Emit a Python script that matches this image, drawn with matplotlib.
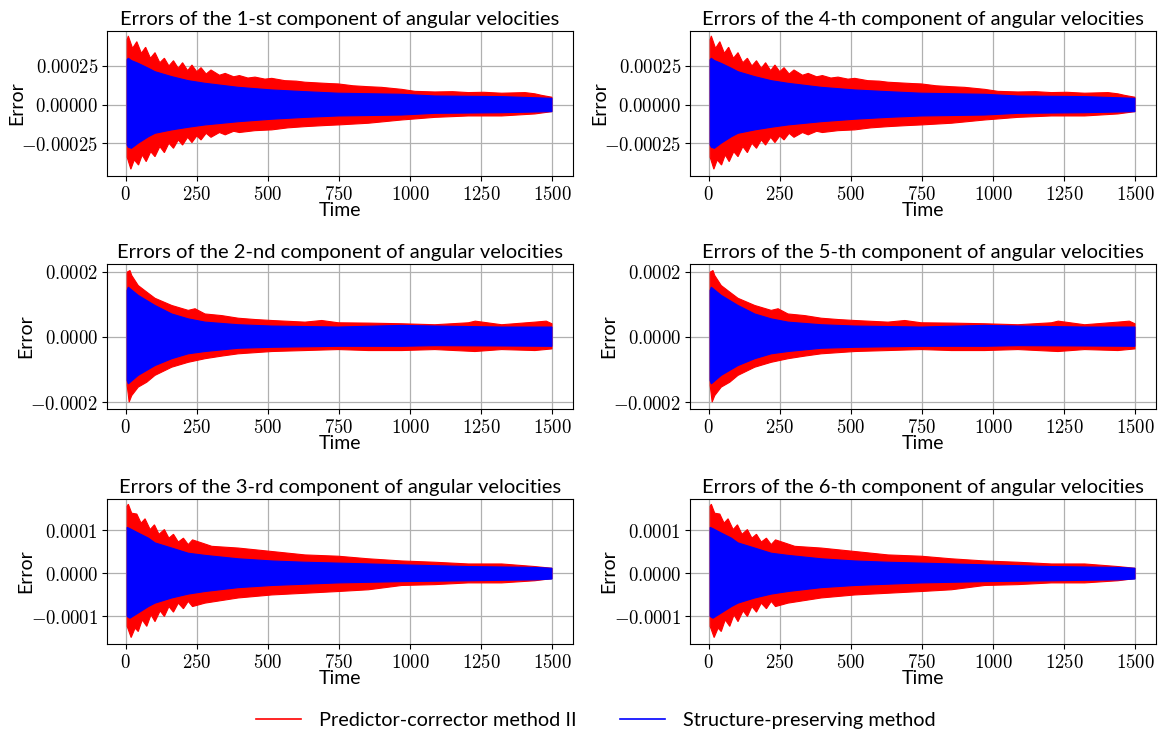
import numpy as np
import matplotlib
matplotlib.use('Agg')
import matplotlib.pyplot as plt
from matplotlib.ticker import FuncFormatter
from matplotlib.lines import Line2D

plt.rcParams['font.family'] = ['Lato', 'DejaVu Sans']
plt.rcParams['mathtext.fontset'] = 'cm'

SCALE = 1e-4  # values below are in units of 1e-4

# ---- component 1 / 4 ----
c1_red_up_t = [5, 9, 24, 39, 55, 70, 87, 103, 120, 136, 152, 168, 185, 200, 218, 233, 250, 265, 283, 300,
               330, 350, 380, 400, 430, 455, 490, 514, 560, 600, 631, 680, 720, 748, 800, 854, 900, 971,
               1018, 1088, 1150, 1206, 1260, 1323, 1405, 1440, 1464, 1500]
c1_red_up = [4.20, 4.44, 3.64, 4.07, 3.32, 3.71, 3.00, 3.36, 2.71, 3.00, 2.50, 2.84, 2.35, 2.71, 2.20, 2.56,
             2.13, 2.39, 1.98, 2.24, 1.90, 2.02, 1.80, 1.88, 1.72, 1.78, 1.65, 1.70, 1.55, 1.52, 1.45, 1.40,
             1.36, 1.34, 1.22, 1.16, 1.12, 0.99, 0.86, 0.82, 0.84, 0.78, 0.80, 0.74, 0.78, 0.70, 0.60, 0.48]
c1_red_lo_t = [5, 18, 30, 45, 58, 72, 88, 103, 120, 136, 152, 168, 185, 200, 218, 233, 250, 265, 283, 300,
               330, 350, 380, 400, 455, 514, 570, 631, 700, 748, 854, 971, 1088, 1206, 1323, 1440, 1500]
c1_red_lo = [-3.40, -4.17, -3.57, -3.90, -3.25, -3.68, -3.04, -3.36, -2.71, -3.10, -2.49, -2.82, -2.28, -2.61,
             -2.11, -2.45, -2.02, -2.28, -1.85, -2.11, -1.80, -1.95, -1.72, -1.80, -1.68, -1.63, -1.50, -1.42,
             -1.35, -1.31, -1.20, -0.99, -0.82, -0.73, -0.73, -0.60, -0.45]
c1_blue_t = [5, 9, 20, 44, 80, 103, 162, 220, 279, 396, 514, 631, 748, 971, 1088, 1323, 1500]
c1_blue_up = [2.90, 3.00, 2.85, 2.67, 2.35, 2.13, 1.81, 1.55, 1.38, 1.12, 0.95, 0.84, 0.74, 0.67, 0.56, 0.52, 0.41]
c1_blue_lo = [-2.60, -2.75, -2.82, -2.49, -2.07, -1.85, -1.63, -1.46, -1.31, -1.10, -0.94, -0.82, -0.73,
              -0.67, -0.56, -0.52, -0.45]

# ---- component 2 / 5 ----
c2_red_up_t = [5, 15, 21, 44, 74, 103, 162, 220, 244, 279, 338, 396, 455, 514, 631, 690, 748, 854, 971,
               1088, 1206, 1230, 1323, 1440, 1480, 1500]
c2_red_up = [1.98, 2.03, 1.88, 1.57, 1.37, 1.18, 0.96, 0.81, 0.86, 0.70, 0.65, 0.57, 0.53, 0.50, 0.45, 0.50,
             0.43, 0.42, 0.40, 0.37, 0.43, 0.48, 0.37, 0.45, 0.48, 0.40]
c2_red_lo_t = [5, 12, 21, 44, 74, 103, 162, 220, 279, 338, 396, 514, 631, 748, 854, 971, 1088, 1229, 1323,
               1440, 1500]
c2_red_lo = [-1.49, -2.00, -1.80, -1.54, -1.39, -1.18, -0.93, -0.78, -0.67, -0.59, -0.52, -0.45, -0.42, -0.39,
             -0.42, -0.42, -0.39, -0.45, -0.39, -0.42, -0.37]
c2_blue_t = [5, 9, 44, 103, 162, 220, 279, 396, 514, 748, 971, 1088, 1323, 1500]
c2_blue_up = [1.42, 1.52, 1.27, 0.96, 0.70, 0.55, 0.45, 0.37, 0.33, 0.30, 0.35, 0.33, 0.30, 0.30]
c2_blue_lo = [-1.34, -1.44, -1.18, -0.88, -0.67, -0.52, -0.45, -0.35, -0.32, -0.29, -0.29, -0.27, -0.28, -0.29]

# ---- component 3 / 6 ----
c3_red_up_t = [5, 9, 21, 39, 54, 68, 86, 101, 117, 136, 152, 168, 185, 203, 220, 235, 267, 303, 396, 514,
               631, 748, 854, 971, 1088, 1206, 1323, 1440, 1500]
c3_red_up = [1.56, 1.61, 1.40, 1.38, 1.17, 1.27, 1.02, 1.13, 0.91, 1.02, 0.82, 0.91, 0.73, 0.82, 0.67, 0.78,
             0.71, 0.63, 0.59, 0.51, 0.43, 0.40, 0.34, 0.29, 0.26, 0.22, 0.22, 0.16, 0.12]
c3_red_lo_t = [5, 19, 33, 44, 58, 74, 89, 103, 121, 136, 152, 168, 185, 203, 220, 235, 279, 396, 514, 631,
               748, 854, 971, 1088, 1206, 1323, 1440, 1500]
c3_red_lo = [-1.23, -1.49, -1.27, -1.35, -1.08, -1.23, -0.96, -1.12, -0.87, -1.00, -0.77, -0.90, -0.69, -0.82,
             -0.65, -0.77, -0.69, -0.57, -0.50, -0.46, -0.42, -0.38, -0.28, -0.26, -0.22, -0.22, -0.17, -0.12]
c3_blue_t = [5, 15, 44, 80, 103, 162, 220, 279, 396, 514, 631, 748, 971, 1206, 1440, 1500]
c3_blue_up = [1.07, 1.04, 0.94, 0.82, 0.71, 0.59, 0.47, 0.42, 0.34, 0.29, 0.26, 0.24, 0.20, 0.16, 0.14, 0.12]
c3_blue_lo = [-1.00, -1.04, -0.92, -0.77, -0.69, -0.57, -0.48, -0.42, -0.33, -0.28, -0.25, -0.22, -0.19,
              -0.17, -0.15, -0.13]

components = [
    (c1_red_up_t, c1_red_up, c1_red_lo_t, c1_red_lo, c1_blue_t, c1_blue_up, c1_blue_lo),
    (c2_red_up_t, c2_red_up, c2_red_lo_t, c2_red_lo, c2_blue_t, c2_blue_up, c2_blue_lo),
    (c3_red_up_t, c3_red_up, c3_red_lo_t, c3_red_lo, c3_blue_t, c3_blue_up, c3_blue_lo),
]
titles = ['1-st', '2-nd', '3-rd', '4-th', '5-th', '6-th']
yticks = [[-0.00025, 0.0, 0.00025], [-0.0002, 0.0, 0.0002], [-0.0001, 0.0, 0.0001]]
ydec = [5, 4, 4]
ylims = [(-4.61e-4, 4.76e-4), (-2.21e-4, 2.23e-4), (-1.64e-4, 1.73e-4)]
ylab_x = [-0.176, -0.156, -0.156]
xticks = [0, 250, 500, 750, 1000, 1250, 1500]


def band(ax, t_up, up, t_lo, lo, color):
    xs = np.concatenate([t_up, t_lo[::-1]])
    ys = np.concatenate([np.array(up), np.array(lo)[::-1]]) * SCALE
    ax.fill(xs, ys, color=color, lw=0.8, zorder=2)


fig = plt.figure(figsize=(11.59, 7.31), dpi=100)
W, H = 1159, 731
lefts = [107, 690]
tops = [31, 264, 499]
aw, ah = 466, 145

for col in range(2):
    for row in range(3):
        ax = fig.add_axes([lefts[col] / W, 1 - (tops[row] + ah) / H, aw / W, ah / H])
        rut, ru, rlt, rl, bt, bu, bl = components[row]
        band(ax, np.array(rut), ru, np.array(rlt), rl, 'red')
        band(ax, np.array(bt), bu, np.array(bt), bl, 'blue')
        ax.set_xlim(-66, 1574)
        ax.set_ylim(*ylims[row])
        ax.set_xticks(xticks)
        ax.set_yticks(yticks[row])
        d = ydec[row]
        ax.yaxis.set_major_formatter(FuncFormatter(lambda v, p, d=d: r'$%s$' % f'{v:.{d}f}'))
        ax.xaxis.set_major_formatter(FuncFormatter(lambda v, p: r'$%d$' % v))
        ax.tick_params(labelsize=13.5, pad=3)
        ax.grid(True, color='#b0b0b0', lw=0.9)
        ax.set_xlabel('Time', fontsize=14, labelpad=-1)
        ax.set_ylabel('Error', fontsize=14)
        ax.yaxis.set_label_coords(ylab_x[row], 0.5)
        ax.set_title(f'Errors of the {titles[col * 3 + row]} component of angular velocities',
                     fontsize=14.5, pad=4)

handles = [Line2D([], [], color='red', lw=1.2), Line2D([], [], color='blue', lw=1.2)]
fig.legend(handles, ['Predictor-corrector method II', 'Structure-preserving method'],
           loc='lower center', bbox_to_anchor=(0.514, -0.022), ncol=2, frameon=False,
           fontsize=14.3, columnspacing=2.2, handlelength=2.25, handletextpad=0.9)

fig.savefig('out.png', dpi=100)
